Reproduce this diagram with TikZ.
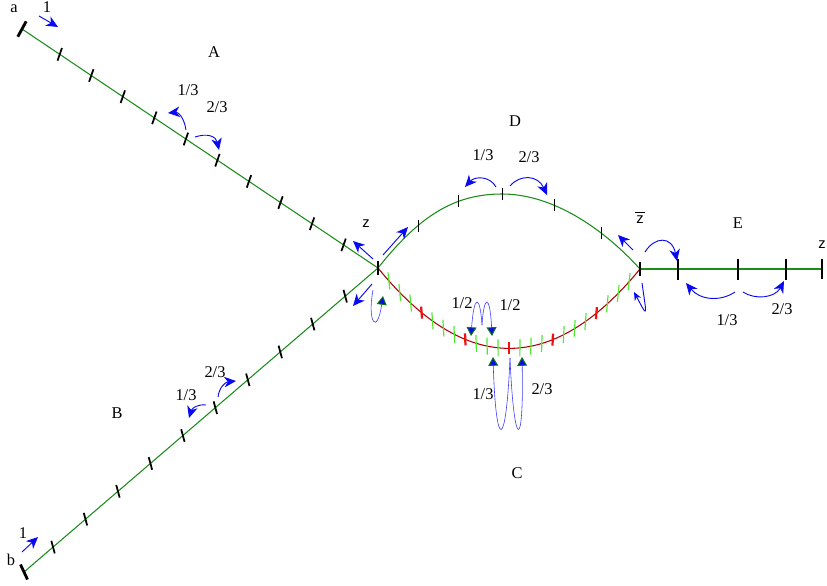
\documentclass[tikz,border=0pt]{standalone}
\usepackage{fontspec}
\setmainfont{Liberation Serif}
\newfontfamily\zfont{Liberation Sans}
\usepackage{tikz}
\usetikzlibrary{arrows.meta}
\definecolor{cGreen}{HTML}{1A8C1A}
\definecolor{cDarkRed}{HTML}{B00000}
\definecolor{cRed}{HTML}{F01010}
\definecolor{cLime}{HTML}{50E830}
\definecolor{cBlue}{HTML}{0A0AF0}
\definecolor{cWave}{HTML}{3A3AFF}
\definecolor{cEdge}{HTML}{0E7A0E}
\tikzset{
  gline/.style={cGreen,line width=0.9pt},
  rline/.style={cDarkRed,line width=0.9pt},
  endtick/.style={black,line width=2.4pt},
  bktick/.style={black,line width=1.5pt},
  thintick/.style={black,line width=0.6pt},
  gtick/.style={cLime,line width=1pt},
  rtick/.style={cRed,line width=1.9pt},
  barr/.style={cBlue,line width=0.8pt,-{Stealth[length=10pt,width=9pt,inset=3pt]}},
  sarr/.style={cBlue,line width=0.8pt,-{Stealth[length=7pt,width=6pt,inset=2pt]}},
  wave/.style={cWave,line width=0.5pt,-{Triangle[length=7.5pt,width=8.5pt,fill=cBlue,color=cEdge,line width=0.8pt]}},
  lbl/.style={font=\fontsize{14}{16}\selectfont,inner sep=0pt},
  zlbl/.style={font=\zfont\fontsize{12.5}{14}\selectfont,inner sep=0pt},
}

\begin{document}
\begin{tikzpicture}[x=0.03cm,y=-0.03cm]
  \useasboundingbox (0,0) rectangle (827,586);
  % ends and crossings
  \coordinate (a) at (22,29);
  \coordinate (b) at (24,572);
  \coordinate (Z) at (378,268);
  \coordinate (Zb) at (640,269);
  \coordinate (Dtop) at (502,194);
  \coordinate (zend) at (822,269);

  % the edges
  \draw[gline] (a) -- (Z);
  \draw[gline] (b) -- (Z);
  \draw[gline] (Z) .. controls (420,215) and (455,194) .. (Dtop) .. controls (550,194) and (600,225) .. (Zb);
  \draw[rline] (Z) .. controls (465,375) and (553,375) .. (Zb);
  \draw[gline] (Zb) -- (zend);

  % ticks on A and B
  \foreach \k [evaluate=\k as \t using 0.106+0.0886*\k] in {0,...,9}{
    \path (a) -- (Z) coordinate[pos=\t] (ta\k);
    \draw[bktick] (ta\k) ++(-2.2,6.3) -- ++(4.4,-12.6);
  }
  \foreach \k [evaluate=\k as \t using 0.082+0.0917*\k] in {0,...,9}{
    \path (b) -- (Z) coordinate[pos=\t] (tb\k);
    \draw[bktick] (tb\k) ++(1.7,6.3) -- ++(-3.4,-12.6);
  }

  % ticks on D
  \path (Z) .. controls (420,215) and (455,194) .. (Dtop) coordinate[pos=0.33] (d1) coordinate[pos=0.67] (d2);
  \path (Dtop) .. controls (550,194) and (600,225) .. (Zb) coordinate[pos=0.36] (d4) coordinate[pos=0.7] (d5);
  \foreach \p in {d1,d2,Dtop,d4,d5}
    \draw[thintick] (\p) ++(0,-6) -- ++(0,12);

  % ticks on C
  \foreach \k [evaluate=\k as \t using \k/24, evaluate=\k as \hx using 1.0*(1-\k/12), evaluate=\k as \dx using -2.0*(1-\k/12)] in {1,2,3,5,6,7,9,10,11,13,14,15,17,18,19,21,22,23}{
    \path (Z) .. controls (465,375) and (553,375) .. (Zb) coordinate[pos=\t] (cg\k);
    \draw[gtick] (cg\k) ++(\hx,8.5) -- ++(\dx,-17);
  }
  \foreach \k [evaluate=\k as \t using \k/24, evaluate=\k as \hx using 0.7*(1-\k/12), evaluate=\k as \dx using -1.4*(1-\k/12)] in {4,8,12,16,20}{
    \path (Z) .. controls (465,375) and (553,375) .. (Zb) coordinate[pos=\t] (cr\k);
    \draw[rtick] (cr\k) ++(\hx,6) -- ++(\dx,-12);
  }

  % ticks on E and the end marks
  \foreach \x in {678,738,786}
    \draw[bktick] (\x,259) -- (\x,280);
  \draw[endtick] (a) ++(-4.2,7.7) -- ++(8.4,-15.4);
  \draw[endtick] (b) ++(3.5,7.5) -- ++(-7,-15);
  \draw[endtick] (Z) ++(0,-7) -- ++(0,14);
  \draw[endtick] (Zb) ++(0,-7) -- ++(0,14);
  \draw[endtick] (zend) ++(0,-10) -- ++(0,20);

  % labels
  \node[lbl] (la) at (14,9) {a};
  \node[lbl] (one1) at (47,7) {1};
  \node[lbl] (lA) at (214,52) {A};
  \node[lbl] (a13) at (188,90) {1/3};
  \node[lbl] (a23) at (217,107) {2/3};
  \node[lbl] (lD) at (515,121) {D};
  \node[lbl] (d13) at (483,155) {1/3};
  \node[lbl] (d23) at (529,157) {2/3};
  \node[zlbl] (lz) at (366,224) {z};
  \node[zlbl,anchor=south] (lzb) at (640,224) {\vbox{\hrule height 0.6pt width 8pt\kern 3pt\hbox to 8pt{\hss z\hss}}};
  \node[lbl] (lE) at (738,223) {E};
  \node[zlbl] (lz2) at (822,245) {z};
  \node[lbl] (e13) at (727,320) {1/3};
  \node[lbl] (e23) at (782,309) {2/3};
  \node[lbl] (c12a) at (462,303) {1/2};
  \node[lbl] (c12b) at (510,305) {1/2};
  \node[lbl] (c13) at (483,394) {1/3};
  \node[lbl] (c23) at (542,389) {2/3};
  \node[lbl] (lC) at (517,473) {C};
  \node[lbl] (lB) at (117,413) {B};
  \node[lbl] (b13) at (186,395) {1/3};
  \node[lbl] (b23) at (215,372) {2/3};
  \node[lbl] (one2) at (23,533) {1};
  \node[lbl] (lb) at (11,560) {b};

  % moves on A and B
  \draw[barr] (39,16) -- (58,27);
  \draw[barr] (186,130) .. controls (184,117) and (178,112) .. (168,113);
  \draw[barr] (195,137) .. controls (207,133) and (216,136) .. (219,150);
  \draw[barr] (22,552) -- (38,537);
  \draw[barr] (206,405) .. controls (198,404) and (192,408) .. (189,418);
  \draw[barr] (218,397) .. controls (219,388) and (225,382) .. (236,381);

  % moves on D
  \draw[barr] (496,187) .. controls (490,176) and (475,176) .. (465,187);
  \draw[barr] (510,186) .. controls (520,174) and (538,175) .. (547,195);

  % moves at z
  \draw[barr] (373,259) -- (353,241);
  \draw[barr] (383,255) -- (408,227);
  \draw[barr] (372,284) -- (353,306);
  \draw[wave] (373,290) .. controls (367,322) and (377,336) .. (383,296);

  % moves at z bar and on E
  \draw[barr] (633,250) -- (618,235);
  \draw[barr] (645,252) .. controls (655,236) and (672,236) .. (677,261);
  \draw[sarr] (642,283) .. controls (647,318) and (648,318) .. (634,292);
  \draw[barr] (735,292) .. controls (720,302) and (700,300) .. (686,283);
  \draw[barr] (743,292) .. controls (755,300) and (775,298) .. (784,281);

  % moves on C
  \draw[wave] (482,325) .. controls (480,294) and (474,294) .. (471,336);
  \draw[wave] (482,325) .. controls (484,294) and (490,294) .. (492,336);
  \draw[wave] (510,358) .. controls (506,452) and (496,452) .. (493,357);
  \draw[wave] (510,358) .. controls (514,452) and (524,452) .. (522,357);
\end{tikzpicture}
\end{document}
